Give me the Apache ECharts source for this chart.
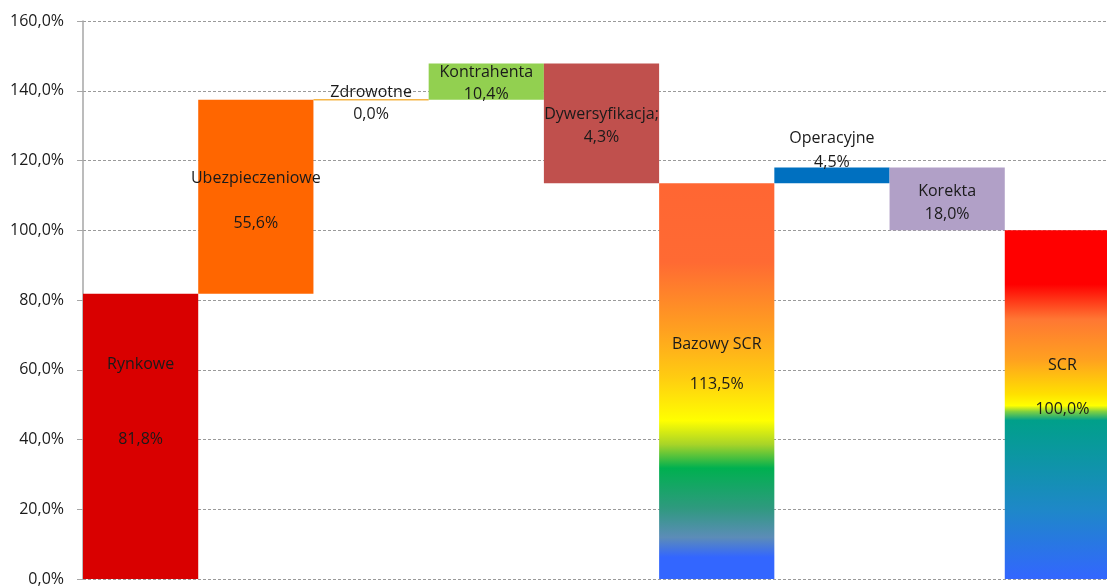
<!DOCTYPE html>
<html>
<head>
<meta charset="utf-8">
<script src="https://cdn.jsdelivr.net/npm/echarts@6/dist/echarts.min.js"></script>
<style>
html,body{margin:0;padding:0;background:#fff;overflow:hidden;}
#c{width:1120px;height:587px;}
</style>
</head>
<body>
<div id="c"></div>
<script>
// ---- data ----
var categories = ['Rynkowe','Ubezpieczeniowe','Zdrowotne','Kontrahenta','Dywersyfikacja;','Bazowy SCR','Operacyjne','Korekta','SCR'];
var baseValues = [0, 81.8, 137.4, 137.4, 113.5, 0, 113.5, 100, 0];
var barValues = [81.8, 55.6, 0, 10.4, 34.3, 113.5, 4.5, 18.0, 100];
var labelValues = [81.8, 55.6, 0.0, 10.4, 4.3, 113.5, 4.5, 18.0, 100.0];
var yTicks = [0, 20, 40, 60, 80, 100, 120, 140, 160];

// ---- styles ----
function grad(stops){
  return new echarts.graphic.LinearGradient(0,0,0,1, stops.map(function(s){return {offset:s[0], color:s[1]};}));
}
var barColors = [
  '#D90000',
  '#FF6600',
  '#F5B547',
  '#92D050',
  '#C0504D',
  grad([[0,'#FF6633'],[0.2,'#FF6A33'],[0.37,'#FFA020'],[0.49,'#FFCC11'],[0.6,'#FFFF00'],[0.66,'#A8D428'],[0.72,'#00B050'],[0.82,'#2E9A7E'],[0.895,'#5C8CB8'],[0.945,'#3366FF'],[1,'#3366FF']]),
  '#0070C0',
  '#B1A0C7',
  grad([[0,'#FF0000'],[0.155,'#FF0000'],[0.255,'#FF7733'],[0.37,'#FFA020'],[0.47,'#FFE000'],[0.503,'#FFFF00'],[0.52,'#80D040'],[0.545,'#00A08A'],[0.8,'#1E88C8'],[1,'#3366FF']])
];
// [lineHeight, vertical offset]
var labelLayout = [[75,-34],[45,4],[22,4],[22,2],[23,3],[40,-17],[24,-25],[23,4],[44,-17]];

function fmt(v){ return v.toFixed(1).replace('.', ',') + '%'; }

var valueData = barValues.map(function(v,i){
  var item = {
    value: v,
    itemStyle: { color: barColors[i] },
    label: {
      lineHeight: labelLayout[i][0],
      offset: [0, labelLayout[i][1]]
    }
  };
  if (v === 0) {
    item.itemStyle.borderColor = barColors[i];
    item.itemStyle.borderWidth = 1.5;
  }
  return item;
});

var chart = echarts.init(document.getElementById('c'), null, {renderer:'canvas'});
chart.setOption({
  animation: false,
  backgroundColor: '#ffffff',
  grid: { left: 83, right: 0, top: 21, bottom: 6, containLabel: false },
  xAxis: {
    type: 'category',
    data: categories,
    axisLine: { show: false },
    axisTick: { show: false },
    axisLabel: { show: false },
    splitLine: { show: false }
  },
  yAxis: {
    type: 'value',
    min: yTicks[0],
    max: yTicks[yTicks.length-1],
    interval: 20,
    axisLine: { show: true, lineStyle: { color: '#A6A6A6', width: 1.5 } },
    axisTick: { show: true, length: 6, lineStyle: { color: '#A6A6A6' } },
    axisLabel: {
      formatter: function(v){ return fmt(v); },
      fontFamily: 'Open Sans', fontSize: 16, color: '#1a1a1a', margin: 19
    },
    splitLine: { show: true, lineStyle: { color: '#9A9A9A', type: [3,2], width: 1 } }
  },
  series: [
    {
      type: 'bar', stack: 'w', data: baseValues,
      itemStyle: { color: 'transparent' },
      barCategoryGap: '0%', silent: true
    },
    {
      type: 'bar', stack: 'w', data: valueData,
      barCategoryGap: '0%',
      label: {
        show: true, position: 'inside',
        fontFamily: 'Open Sans', fontSize: 16, color: '#1a1a1a',
        formatter: function(p){ return categories[p.dataIndex] + '\n' + fmt(labelValues[p.dataIndex]); }
      }
    }
  ]
});
</script>
</body>
</html>
